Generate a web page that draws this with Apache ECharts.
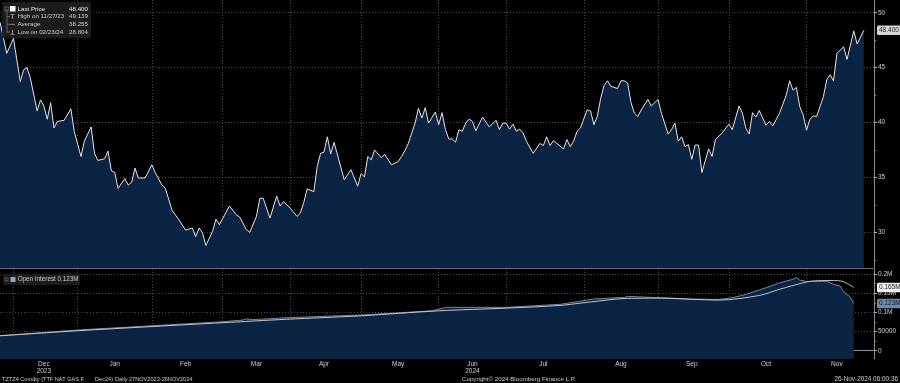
<!DOCTYPE html>
<html><head><meta charset="utf-8">
<script src="https://cdn.jsdelivr.net/npm/echarts@6/dist/echarts.min.js"></script>
<style>html,body{margin:0;padding:0;background:#000}#c{width:900px;height:383px}</style>
</head><body><div id="c"></div>
<script>
// ---- data ----
const startDate = '2023-11-27';
const endDate = '2024-11-29';          // axis runs a few sessions past the last print
const lastDataDate = '2024-11-26';
const holidays = ['2023-12-25','2023-12-26','2024-01-01','2024-03-29','2024-04-01'];

// price: trading-session index -> settle (EUR/MWh)
const priceIdx = [0,2,4,6,7,8,9,11,12,13,14,15,16,17,19,21,22,24,25,27,28,29,31,32,33,34,35,37,38,39,40,41,43,45,46,48,49,51,53,55,56,57,58,59,60,61,63,64,65,68,70,71,73,74,76,77,78,80,82,83,84,86,88,89,90,91,93,94,95,96,97,98,99,102,104,106,107,108,109,110,111,113,114,116,118,119,120,121,123,124,125,126,127,129,130,131,132,133,134,135,136,137,138,139,140,141,143,145,147,148,149,150,151,152,153,154,155,156,158,160,161,162,163,164,167,168,169,170,171,172,174,175,176,177,178,179,180,181,183,184,185,186,187,188,189,190,192,193,195,196,198,199,200,201,202,203,204,205,206,207,208,210,211,212,214,216,217,219,220,221,222,223,224,225,227,228,229,231,233,234,235,236,237,238,239,240,241,242,244,245,246,247,248,250,251,253,254,256];
const priceVal = [49.14,46.3,47.67,43.73,44.8,45.0,44.04,41.06,42.06,41.5,40.3,41.8,39.5,40.1,40.2,41.25,39.2,36.9,38.3,39.6,37.2,36.55,36.7,37.4,35.6,35.45,34.0,34.9,34.3,34.55,35.85,34.95,34.95,36.15,35.45,34.3,34.0,32.0,31.15,30.2,30.3,30.4,29.6,30.4,29.95,28.8,30.1,31.2,30.7,32.4,31.6,31.4,30.25,30.0,31.45,33.1,33.1,31.3,33.3,32.4,32.8,32.2,31.45,31.75,32.7,33.95,33.7,36.0,37.2,37.3,38.7,37.15,38.2,34.8,35.7,34.2,35.35,35.05,36.9,36.6,37.5,36.8,37.1,36.15,36.45,36.9,37.45,38.1,39.95,41.3,40.4,41.35,39.95,40.95,39.8,40.9,39.35,38.5,38.5,38.2,39.35,39.2,39.95,40.3,40.1,39.25,40.5,39.6,40.2,39.35,39.95,39.95,39.4,39.85,39.2,39.4,39.05,38.3,37.2,38.1,37.9,38.7,37.9,38.35,37.6,38.45,37.8,38.3,39.2,39.5,41.15,41.05,39.8,40.55,42.2,43.35,43.8,43.3,43.1,43.8,43.8,43.6,41.8,40.85,40.55,41.15,42.1,41.5,42.1,40.85,38.95,39.35,39.95,38.3,38.7,37.8,38.0,36.65,37.95,37.95,35.45,37.6,36.9,38.45,39.05,39.85,39.35,41.5,40.85,39.5,38.95,40.9,40.5,41.1,39.75,40.1,39.7,40.85,42.5,43.8,42.95,43.2,41.45,40.7,39.3,40.3,40.6,40.55,42.35,43.9,44.35,43.8,46.3,46.9,45.75,48.35,47.15,48.4];

// open interest (contracts)
const oiIdx = [0,23,45,66,72,73,75,85,107,128,130,132,150,166,172,176,185,186,196,205,213,217,221,227,231,235,236,237,239,245,247,249,250,252,253];
const oiVal = [39000,54000,65000,75500,80000,83000,81000,86000,93000,104000,108000,113000,113000,121000,129000,135000,139000,141600,138000,134600,133800,138000,146800,164000,177000,186000,191000,184000,180700,181000,173000,168500,153000,140000,123000];

// open interest moving average
const maIdx = [0,23,45,66,85,107,130,150,166,172,186,196,205,213,225,231,235,240,245,249,253];
const maVal = [39000,52000,63000,73000,82000,91000,104000,111000,118000,124000,136400,137000,134000,132000,144000,160000,170000,180700,183000,182000,165000];

const priceTicks = [30,35,40,45,50];
const priceMinorTicks = [27.5,32.5,37.5,42.5,47.5];
const oiTicks = [0,50000,100000,150000,200000];
const oiMinorTicks = [25000,75000,125000,175000];
const legendRows = [['Last Price','48.400'],['High on 11/27/23','49.139'],['Average','38.255'],['Low on 02/23/24','28.804']];
const oiLegend = 'Open Interest 0.123M';
const yearUnder = {'2023-12':'2023','2024-06':'2024'};
const monthNames = ['Jan','Feb','Mar','Apr','May','Jun','Jul','Aug','Sep','Oct','Nov','Dec'];
const footerLeft = ['TZTZ4 Comdty (TTF NAT GAS F','Dec24)','Daily 27NOV2023-26NOV2024'];
const footerMid = 'Copyright\u00a9 2024 Bloomberg Finance L.P.';
const footerRight = '26-Nov-2024 06:00:36';

// ---- trading calendar ----
const categories = [];
{
  let t = Date.parse(startDate + 'T00:00:00Z');
  const e = Date.parse(endDate + 'T00:00:00Z');
  while (t <= e) {
    const d = new Date(t), wd = d.getUTCDay(), s = d.toISOString().slice(0,10);
    if (wd !== 0 && wd !== 6 && holidays.indexOf(s) < 0) categories.push(s);
    t += 86400000;
  }
}
const lastDataIdx = categories.indexOf(lastDataDate);
const monthStarts = [];
for (let i = 1; i <= lastDataIdx; i++) {
  if (categories[i].slice(0,7) !== categories[i-1].slice(0,7)) monthStarts.push(i);
}
const monthStartSet = new Set(monthStarts);
const labelMap = new Map();
for (let k = 0; k < monthStarts.length; k++) {
  const s = monthStarts[k];
  const nx = k + 1 < monthStarts.length ? monthStarts[k+1] : lastDataIdx + 1;
  labelMap.set(Math.floor((s + nx) / 2), categories[s].slice(0,7));
}

const zip = (a, b) => a.map((x, i) => [x, b[i]]);
const FONT = 'Liberation Sans, Arial, sans-serif';
const TXT = '#cfcfcf';
const GRIDC = '#4a4a4a';
const FILL = '#0b2444';

const chart = echarts.init(document.getElementById('c'), null, {renderer: 'canvas'});

const xCommon = {
  type: 'category', data: categories, boundaryGap: false,
  splitLine: {show: true, interval: (i) => monthStartSet.has(i), lineStyle: {color: GRIDC, type: [1, 2], width: 1}}
};

const yAxisBase = (grid, min, max) => ({
  type: 'value', gridIndex: grid, position: 'right', min: min, max: max, scale: true
});

function oiFmt(v) {
  if (v >= 100000) return (v / 1e6) + 'M';
  return String(v);
}

const graphics = [];
const F = (s) => s + 'px ' + FONT;
// price legend box
graphics.push({type: 'rect', shape: {x: 2, y: 2, width: 89, height: 36}, style: {fill: 'rgba(30,30,30,0.92)'}, z: 100});
graphics.push({type: 'rect', shape: {x: 10, y: 6, width: 5.5, height: 5.5}, style: {fill: '#ffffff'}, z: 101});
graphics.push({type: 'line', shape: {x1: 7, y1: 9, x2: 7, y2: 33}, style: {stroke: '#777', lineWidth: 0.8}, z: 101});
graphics.push({type: 'rect', shape: {x: 5, y: 7, width: 4, height: 4}, style: {fill: 'none', stroke: '#888', lineWidth: 0.6}, z: 101});
[16.7, 24.3, 32].forEach((yy, k) => {
  graphics.push({type: 'line', shape: {x1: 7, y1: yy, x2: 10, y2: yy}, style: {stroke: '#777', lineWidth: 0.8}, z: 101});
  if (k === 0) graphics.push({type: 'line', shape: {x1: 10.5, y1: 14.5, x2: 14.5, y2: 14.5}, style: {stroke: '#aaa', lineWidth: 0.8}, z: 101});
  if (k === 1) graphics.push({type: 'line', shape: {x1: 10, y1: yy, x2: 15, y2: yy}, style: {stroke: '#aaa', lineWidth: 0.8}, z: 101});
  if (k === 2) graphics.push({type: 'line', shape: {x1: 10.5, y1: 34.3, x2: 14.5, y2: 34.3}, style: {stroke: '#aaa', lineWidth: 0.8}, z: 101});
  if (k !== 1) graphics.push({type: 'line', shape: {x1: 12.5, y1: yy - 2.2, x2: 12.5, y2: yy + 2.2}, style: {stroke: '#aaa', lineWidth: 0.8}, z: 101});
});
const rowsY = [9.3, 16.7, 24.3, 32];
legendRows.forEach((r, k) => {
  graphics.push({type: 'text', x: 17.5, y: rowsY[k], z: 102, style: {text: r[0], fill: k === 0 ? '#eeeeee' : TXT, font: F(6.2), verticalAlign: 'middle', align: 'left'}});
  graphics.push({type: 'text', x: 88, y: rowsY[k], z: 102, style: {text: r[1], fill: k === 0 ? '#eeeeee' : TXT, font: F(6.2), verticalAlign: 'middle', align: 'right'}});
});
// OI legend box
graphics.push({type: 'rect', shape: {x: 3, y: 274, width: 77, height: 11}, style: {fill: 'rgba(30,30,30,0.92)'}, z: 100});
graphics.push({type: 'rect', shape: {x: 5, y: 278, width: 3, height: 3}, style: {fill: 'none', stroke: '#777', lineWidth: 0.6}, z: 101});
graphics.push({type: 'rect', shape: {x: 10.5, y: 277, width: 5, height: 5}, style: {fill: '#8fa6c8'}, z: 101});
graphics.push({type: 'text', x: 17.7, y: 279.7, z: 102, style: {text: oiLegend, fill: TXT, font: F(6.3), verticalAlign: 'middle'}});
// footer
graphics.push({type: 'text', x: 2, y: 379, style: {text: footerLeft[0], fill: TXT, font: F(5.6), verticalAlign: 'middle'}});
graphics.push({type: 'text', x: 95, y: 379, style: {text: footerLeft[1], fill: TXT, font: F(5.6), verticalAlign: 'middle'}});
graphics.push({type: 'text', x: 115, y: 379, style: {text: footerLeft[2], fill: TXT, font: F(5.6), verticalAlign: 'middle'}});
graphics.push({type: 'text', x: 462, y: 379, style: {text: footerMid, fill: TXT, font: F(6.2), verticalAlign: 'middle'}});
graphics.push({type: 'text', x: 898, y: 379, style: {text: footerRight, fill: TXT, font: F(6.4), verticalAlign: 'middle', align: 'right'}});

const badge = (value, text, bg, fg) => ({
  silent: true, symbol: 'none', animation: false,
  lineStyle: {color: 'rgba(0,0,0,0)', width: 0, type: 'solid'},
  label: {show: true, position: 'end', distance: 3, formatter: text, backgroundColor: bg, color: fg,
          fontSize: 6.5, fontFamily: FONT, padding: [1.5, 2, 1, 2], borderRadius: 1.5, opacity: 1},
  emphasis: {disabled: true},
  data: [{yAxis: value}]
});

const lastPrice = priceVal[priceVal.length - 1];
const lastOI = oiVal[oiVal.length - 1];
const lastMA = maVal[maVal.length - 1];

chart.setOption({
  backgroundColor: '#000',
  animation: false,
  textStyle: {fontFamily: FONT},
  grid: [
    {left: 0, top: 0, width: 874, height: 268},
    {left: 0, top: 269, width: 874, height: 90}
  ],
  xAxis: [
    Object.assign({}, xCommon, {gridIndex: 0,
      axisLine: {show: true, lineStyle: {color: '#6a6a6a', width: 1}},
      axisTick: {show: false}, axisLabel: {show: false}}),
    Object.assign({}, xCommon, {gridIndex: 1,
      axisLine: {show: true, lineStyle: {color: '#7d8ea6', width: 1}},
      axisTick: {show: true, interval: (i) => monthStartSet.has(i), length: 3, lineStyle: {color: '#999'}},
      axisLabel: {show: true, interval: (i) => labelMap.has(i), margin: 1.5,
        color: TXT, fontSize: 6.5, lineHeight: 7, fontFamily: FONT,
        formatter: (v, i) => {
          const ym = labelMap.get(i);
          if (!ym) return '';
          const m = monthNames[parseInt(ym.slice(5, 7), 10) - 1];
          return yearUnder[ym] ? m + '\n' + yearUnder[ym] : m;
        }}})
  ],
  yAxis: [
    Object.assign(yAxisBase(0, 26.75, 51.16), {
      axisLine: {show: true, lineStyle: {color: '#8a8a8a'}},
      axisTick: {show: true, customValues: priceTicks, length: 3, lineStyle: {color: '#aaa'}},
      axisLabel: {show: true, customValues: priceTicks, margin: 4, color: TXT, fontSize: 6.5, fontFamily: FONT},
      splitLine: {show: true, lineStyle: {color: GRIDC, type: [1, 2]}}
    }),
    Object.assign(yAxisBase(0, 26.75, 51.16), {
      axisLine: {show: false},
      axisTick: {show: true, customValues: priceMinorTicks, length: 2, lineStyle: {color: '#888'}},
      axisLabel: {show: false}, splitLine: {show: false}
    }),
    Object.assign(yAxisBase(1, -21600, 213000), {
      axisLine: {show: true, lineStyle: {color: '#8a8a8a'}},
      axisTick: {show: true, customValues: oiTicks, length: 3, lineStyle: {color: '#aaa'}},
      axisLabel: {show: true, customValues: oiTicks, margin: 4, color: TXT, fontSize: 6.5, fontFamily: FONT, formatter: oiFmt},
      splitLine: {show: true, lineStyle: {color: GRIDC, type: [1, 2]}}
    }),
    Object.assign(yAxisBase(1, -21600, 213000), {
      axisLine: {show: false},
      axisTick: {show: true, customValues: oiMinorTicks, length: 2, lineStyle: {color: '#888'}},
      axisLabel: {show: false}, splitLine: {show: false}
    })
  ],
  series: [
    {
      name: 'Last Price', type: 'line', xAxisIndex: 0, yAxisIndex: 0, clip: false,
      data: zip(priceIdx, priceVal), symbol: 'none', smooth: false,
      lineStyle: {color: '#e4e4e4', width: 1},
      areaStyle: {color: FILL, opacity: 1, origin: 'start'},
      markLine: badge(lastPrice, lastPrice.toFixed(3), '#d6d6d6', '#222'),
      z: 3
    },
    {
      name: 'Open Interest', type: 'line', xAxisIndex: 1, yAxisIndex: 2, clip: false,
      data: zip(oiIdx, oiVal), symbol: 'none',
      lineStyle: {color: '#6f86a8', width: 1},
      areaStyle: {color: FILL, opacity: 1, origin: 'start'},
      markLine: badge(lastOI, (lastOI / 1e6).toFixed(3) + 'M', '#7088ad', '#0a1626'),
      z: 3
    },
    {
      name: 'OI Avg', type: 'line', xAxisIndex: 1, yAxisIndex: 2, clip: false,
      data: zip(maIdx, maVal), symbol: 'none', smooth: 0.3,
      lineStyle: {color: '#d6d6d6', width: 0.9},
      markLine: badge(lastMA, (lastMA / 1e6).toFixed(3) + 'M', '#eeeeee', '#222'),
      z: 4
    }
  ],
  graphic: graphics
});
</script>
</body></html>
